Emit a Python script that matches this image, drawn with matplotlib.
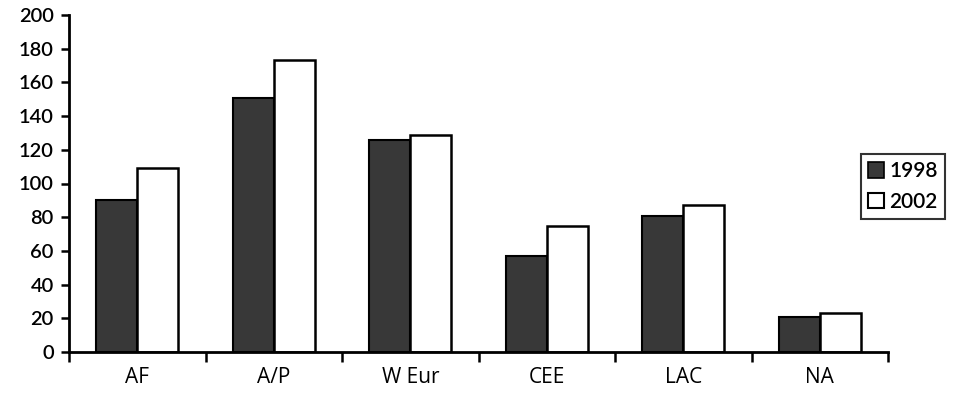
import matplotlib
matplotlib.use("Agg")
import matplotlib.pyplot as plt
import numpy as np
from matplotlib.patches import Patch

regions = ["AF", "A/P", "W Eur", "CEE", "LAC", "NA"]
series_1998 = [90, 151, 126, 57, 81, 21]
series_2002 = [109, 173, 129, 75, 87, 23]
years = ["1998", "2002"]
y_ticks = [0, 20, 40, 60, 80, 100, 120, 140, 160, 180, 200]

dark = "#383838"
fig = plt.figure(figsize=(9.55, 4.05), dpi=100)
ax = fig.add_axes([69 / 955, 53 / 405, 819 / 955, 337 / 405])

x = np.arange(len(regions))
w = 0.3
ax.bar(x - w / 2, series_1998, width=w, color=dark, edgecolor="black", linewidth=1.5)
ax.bar(x + w / 2, series_2002, width=w, color="white", edgecolor="black", linewidth=1.8)

ax.set_xlim(-0.5, len(regions) - 0.5)
ax.set_ylim(0, 200)
ax.set_yticks(y_ticks)
ax.set_yticklabels([str(v) for v in y_ticks], fontsize=14.5, fontweight="semibold",
                   family=["Lato", "DejaVu Sans"])
ax.tick_params(axis="y", direction="out", length=6, width=1.8, pad=5)

ax.set_xticks(np.arange(-0.5, len(regions)), labels=[""] * (len(regions) + 1))
ax.tick_params(axis="x", which="major", direction="out", length=7, width=1.8)
ax.set_xticks(x, minor=True)
ax.set_xticklabels(regions, minor=True, fontsize=15,
                   family=["Open Sans", "DejaVu Sans"])
ax.tick_params(axis="x", which="minor", length=0, pad=11)

for side in ["top", "right"]:
    ax.spines[side].set_visible(False)
for side in ["left", "bottom"]:
    ax.spines[side].set_linewidth(2)

handles = [Patch(facecolor=dark, edgecolor="black", linewidth=1.2),
           Patch(facecolor="white", edgecolor="black", linewidth=1.5)]
leg = fig.legend(handles, years, loc="upper left", bbox_to_anchor=(861 / 955, 1 - 154 / 405),
                 frameon=True, fancybox=False, edgecolor="black",
                 handlelength=0.75, handleheight=0.75, handletextpad=0.25,
                 borderpad=0.35, labelspacing=0.5, borderaxespad=0,
                 prop={"family": ["Lato", "DejaVu Sans"], "size": 15, "weight": "semibold"})
leg.get_frame().set_linewidth(1.5)

fig.savefig("out.png", dpi=100, facecolor="white")
